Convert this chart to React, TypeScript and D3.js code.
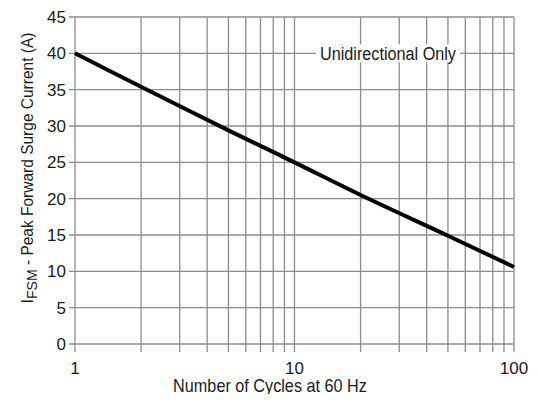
import React, { useEffect, useRef } from 'react';
import * as d3 from 'd3';

// Curve: cycles -> peak surge current (A)
const cycles = [1, 2, 5, 10, 20, 50, 100];
const current = [40, 35.4, 29.4, 25, 20.5, 14.9, 10.6];
const yTicks = [0, 5, 10, 15, 20, 25, 30, 35, 40, 45];
const xLabels = [1, 10, 100];
const xGrid = [1, 2, 3, 4, 5, 6, 7, 8, 9, 10, 20, 30, 40, 50, 60, 70, 80, 90, 100];
const note = 'Unidirectional Only';

const FONT = '"Liberation Sans", Arial, sans-serif';
const INK = '#1a1a1a';

const App = () => {
  const svgRef = useRef<SVGSVGElement>(null);

  useEffect(() => {
    if (!svgRef.current) return;
    const svg = d3.select(svgRef.current);
    svg.selectAll('*').remove();

    const left = 75, right = 514, top = 17, bottom = 344;

    const x = d3.scaleLog().domain([1, 100]).range([left, right]);
    const y = d3.scaleLinear().domain([0, 45]).range([bottom, top]);

    // squeeze a label horizontally to a given width (the original font is condensed)
    const squeeze = (sel: any, cx: number, cy: number, w: number, rot = 0) => {
      const len = (sel.node() as SVGTextElement).getComputedTextLength();
      const s = w / len;
      sel.attr('transform', `translate(${cx},${cy}) rotate(${rot}) scale(${s},1)`);
    };

    const grid = svg.append('g').attr('stroke', '#8c8c8c').attr('stroke-width', 1.3);

    // vertical grid + bottom ticks
    grid.selectAll('line.v')
      .data(xGrid)
      .join('line')
      .attr('class', 'v')
      .attr('x1', d => x(d))
      .attr('x2', d => x(d))
      .attr('y1', top)
      .attr('y2', bottom + 8);

    // horizontal grid + left ticks
    grid.selectAll('line.h')
      .data(yTicks)
      .join('line')
      .attr('class', 'h')
      .attr('x1', left - 6)
      .attr('x2', right)
      .attr('y1', d => y(d))
      .attr('y2', d => y(d));

    // y tick labels
    svg.append('g')
      .selectAll('text')
      .data(yTicks)
      .join('text')
      .attr('x', left - 9)
      .attr('y', d => y(d))
      .attr('dy', '0.36em')
      .attr('text-anchor', 'end')
      .attr('font-family', FONT)
      .attr('font-size', 17)
      .attr('fill', INK)
      .text(d => d);

    // x tick labels
    svg.append('g')
      .selectAll('text')
      .data(xLabels)
      .join('text')
      .attr('x', d => x(d))
      .attr('y', bottom + 30)
      .attr('text-anchor', 'middle')
      .attr('font-family', FONT)
      .attr('font-size', 17)
      .attr('fill', INK)
      .text(d => d);

    // note label over the 40 A gridline
    const noteG = svg.append('g');
    const noteBg = noteG.append('rect').attr('fill', '#fff');
    const nt = noteG.append('text')
      .attr('text-anchor', 'middle')
      .attr('dy', '0.36em')
      .attr('font-family', FONT)
      .attr('font-size', 19)
      .attr('fill', INK)
      .text(note);
    squeeze(nt, 388, y(40), 136);
    noteBg
      .attr('x', 388 - 72)
      .attr('y', y(40) - 9)
      .attr('width', 144)
      .attr('height', 18);

    // curve
    const line = d3.line<number>()
      .x((_, i) => x(cycles[i]))
      .y(d => y(d))
      .curve(d3.curveCatmullRom);
    svg.append('path')
      .datum(current)
      .attr('d', line)
      .attr('fill', 'none')
      .attr('stroke', '#000')
      .attr('stroke-width', 4);

    // x axis title
    const xt = svg.append('text')
      .attr('text-anchor', 'middle')
      .attr('font-family', FONT)
      .attr('font-size', 17.5)
      .attr('fill', INK)
      .text('Number of Cycles at 60 Hz');
    squeeze(xt, 270, 392, 194);

    // y axis title
    const yt = svg.append('text')
      .attr('text-anchor', 'middle')
      .attr('font-family', FONT)
      .attr('font-size', 16.5)
      .attr('fill', INK);
    yt.append('tspan').text('I');
    yt.append('tspan').attr('font-size', 15).attr('dy', 4).text('FSM');
    yt.append('tspan').attr('dy', -4).text(' - Peak Forward Surge Current (A)');
    squeeze(yt, 33, 168, 271, -90);
  }, []);

  return (
    <div style={{ margin: -8 }}>
      <svg ref={svgRef} width={538} height={402} style={{ display: 'block', background: '#fff' }} />
    </div>
  );
};

export default App;
